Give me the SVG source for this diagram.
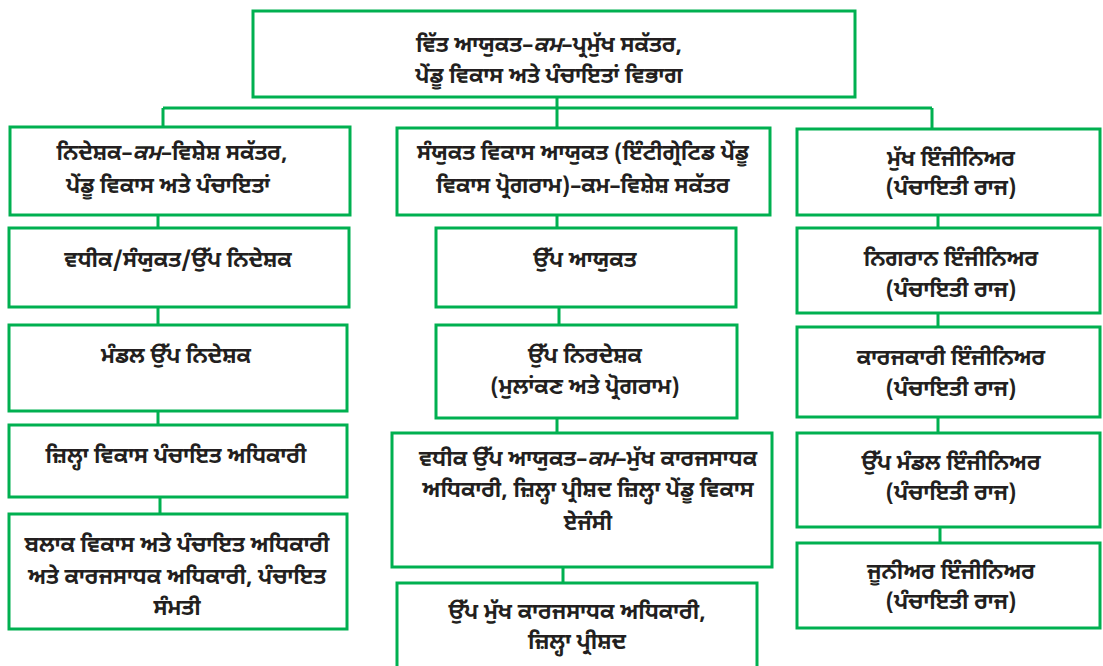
<svg xmlns="http://www.w3.org/2000/svg" width="1103" height="666" viewBox="0 0 1103 666">
<style>
.box{fill:#fff;stroke:#00b050;stroke-width:3}
.conn{fill:none;stroke:#00b050;stroke-width:3}
text{font-family:"Noto Sans Gurmukhi","Noto Sans","Lohit Gurmukhi","DejaVu Sans",sans-serif;font-size:22px;font-weight:bold;fill:#231f20;text-anchor:middle}
.it{font-style:italic}
</style>
<rect width="1103" height="666" fill="#fff"/>
<g id="connectors">
<path class="conn" d="M557 97V108M163 108H932M163 108V127M557 108V128M932 108V129"/>
<path class="conn" d="M158 215V228M158 307V325M158 411V425M160 497V514"/>
<path class="conn" d="M557 215V228M559 307V325M557 418V433M563 567V583"/>
<path class="conn" d="M938 215V228M938 313V327M938 417V433M940 527V543"/>
</g>
<g id="top"><rect class="box" x="253" y="11" width="602" height="86"/>
<text x="549" y="52">ਵਿੱਤ ਆਯੁਕਤ–<tspan class="it">ਕਮ</tspan>–ਪ੍ਰਮੁੱਖ ਸਕੱਤਰ,</text>
<text x="549" y="83">ਪੇਂਡੂ ਵਿਕਾਸ ਅਤੇ ਪੰਚਾਇਤਾਂ ਵਿਭਾਗ</text></g>
<g id="l1"><rect class="box" x="10" y="127" width="340" height="88"/>
<text x="172" y="160">ਨਿਦੇਸ਼ਕ–<tspan class="it">ਕਮ</tspan>–ਵਿਸ਼ੇਸ਼ ਸਕੱਤਰ,</text>
<text x="168" y="193">ਪੇਂਡੂ ਵਿਕਾਸ ਅਤੇ ਪੰਚਾਇਤਾਂ</text></g>
<g id="l2"><rect class="box" x="9" y="228" width="340" height="79"/>
<text x="178" y="267">ਵਧੀਕ/ਸੰਯੁਕਤ/ਉੱਪ ਨਿਦੇਸ਼ਕ</text></g>
<g id="l3"><rect class="box" x="9" y="325" width="338" height="86"/>
<text x="176" y="363">ਮੰਡਲ ਉੱਪ ਨਿਦੇਸ਼ਕ</text></g>
<g id="l4"><rect class="box" x="9" y="425" width="338" height="72"/>
<text x="176" y="463">ਜ਼ਿਲ੍ਹਾ ਵਿਕਾਸ ਪੰਚਾਇਤ ਅਧਿਕਾਰੀ</text></g>
<g id="l5"><rect class="box" x="9" y="514" width="338" height="115"/>
<text x="177" y="552">ਬਲਾਕ ਵਿਕਾਸ ਅਤੇ ਪੰਚਾਇਤ ਅਧਿਕਾਰੀ</text>
<text x="177" y="584">ਅਤੇ ਕਾਰਜਸਾਧਕ ਅਧਿਕਾਰੀ, ਪੰਚਾਇਤ</text>
<text x="177" y="615">ਸੰਮਤੀ</text></g>
<g id="m1"><rect class="box" x="397" y="128" width="373" height="87"/>
<text x="583" y="160">ਸੰਯੁਕਤ ਵਿਕਾਸ ਆਯੁਕਤ (ਇੰਟੀਗ੍ਰੇਟਿਡ  ਪੇਂਡੂ</text>
<text x="583" y="193">ਵਿਕਾਸ ਪ੍ਰੋਗਰਾਮ)–ਕਮ–ਵਿਸ਼ੇਸ਼ ਸਕੱਤਰ</text></g>
<g id="m2"><rect class="box" x="436" y="228" width="300" height="79"/>
<text x="585" y="267">ਉੱਪ ਆਯੁਕਤ</text></g>
<g id="m3"><rect class="box" x="436" y="325" width="301" height="93"/>
<text x="585" y="363">ਉੱਪ ਨਿਰਦੇਸ਼ਕ</text>
<text x="585" y="394">(ਮੁਲਾਂਕਣ ਅਤੇ ਪ੍ਰੋਗਰਾਮ)</text></g>
<g id="m4"><rect class="box" x="392" y="433" width="380" height="134"/>
<text x="588" y="466">ਵਧੀਕ ਉੱਪ ਆਯੁਕਤ–<tspan class="it">ਕਮ</tspan>–ਮੁੱਖ ਕਾਰਜਸਾਧਕ</text>
<text x="588" y="497">ਅਧਿਕਾਰੀ, ਜ਼ਿਲ੍ਹਾ ਪ੍ਰੀਸ਼ਦ ਜ਼ਿਲ੍ਹਾ ਪੇਂਡੂ ਵਿਕਾਸ</text>
<text x="588" y="530">ਏਜੰਸੀ</text></g>
<g id="m5"><rect class="box" x="397" y="583" width="360" height="90"/>
<text x="577" y="619">ਉੱਪ ਮੁੱਖ ਕਾਰਜਸਾਧਕ ਅਧਿਕਾਰੀ,</text>
<text x="577" y="649">ਜ਼ਿਲ੍ਹਾ ਪ੍ਰੀਸ਼ਦ</text></g>
<g id="r1"><rect class="box" x="797" y="129" width="303" height="86"/>
<text x="951" y="166">ਮੁੱਖ ਇੰਜੀਨਿਅਰ</text>
<text x="951" y="195">(ਪੰਚਾਇਤੀ ਰਾਜ)</text></g>
<g id="r2"><rect class="box" x="797" y="228" width="303" height="85"/>
<text x="951" y="266">ਨਿਗਰਾਨ ਇੰਜੀਨਿਅਰ</text>
<text x="951" y="297">(ਪੰਚਾਇਤੀ ਰਾਜ)</text></g>
<g id="r3"><rect class="box" x="797" y="327" width="303" height="90"/>
<text x="951" y="365">ਕਾਰਜਕਾਰੀ ਇੰਜੀਨਿਅਰ</text>
<text x="951" y="396">(ਪੰਚਾਇਤੀ ਰਾਜ)</text></g>
<g id="r4"><rect class="box" x="797" y="433" width="303" height="94"/>
<text x="951" y="470">ਉੱਪ ਮੰਡਲ ਇੰਜੀਨਿਅਰ</text>
<text x="951" y="500">(ਪੰਚਾਇਤੀ ਰਾਜ)</text></g>
<g id="r5"><rect class="box" x="797" y="543" width="303" height="85"/>
<text x="951" y="579">ਜੂਨੀਅਰ ਇੰਜੀਨਿਅਰ</text>
<text x="951" y="609">(ਪੰਚਾਇਤੀ ਰਾਜ)</text></g>
</svg>
